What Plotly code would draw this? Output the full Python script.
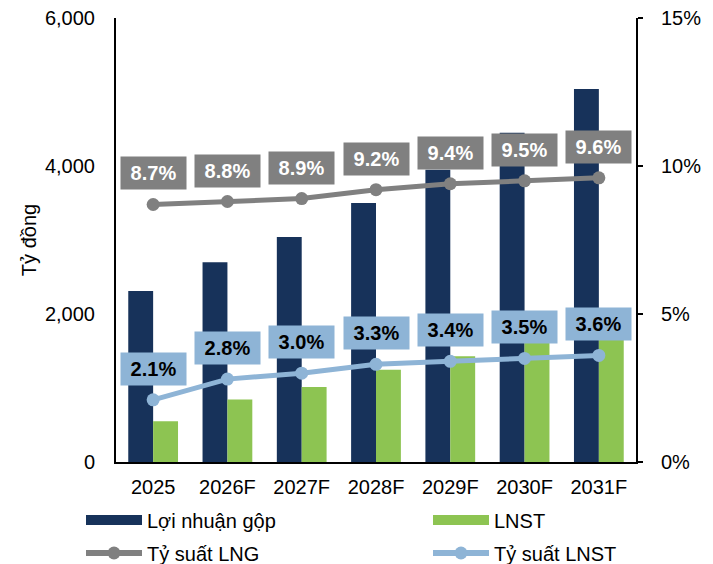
import plotly.graph_objects as go

categories = ["2025", "2026F", "2027F", "2028F", "2029F", "2030F", "2031F"]
gross_profit = [2310, 2700, 3040, 3500, 3950, 4450, 5040]
net_profit = [550, 845, 1015, 1245, 1430, 1640, 1890]
gross_margin = [0.087, 0.088, 0.089, 0.092, 0.094, 0.095, 0.096]
net_margin = [0.021, 0.028, 0.030, 0.033, 0.034, 0.035, 0.036]

NAVY = "#17325A"
GREEN = "#8DC452"
GREY = "#808080"
LBLUE = "#8EB4D6"
FONT = "Arial, Liberation Sans, sans-serif"

fig = go.Figure()
fig.add_trace(go.Bar(x=categories, y=gross_profit, name="Lợi nhuận gộp",
                     marker=dict(color=NAVY, line=dict(width=0)), showlegend=False))
fig.add_trace(go.Bar(x=categories, y=net_profit, name="LNST",
                     marker=dict(color=GREEN, line=dict(width=0)), showlegend=False))
fig.add_trace(go.Scatter(x=categories, y=gross_margin, name="Tỷ suất LNG", yaxis="y2",
                         mode="lines+markers", line=dict(color=GREY, width=5),
                         marker=dict(color=GREY, size=13), showlegend=False))
fig.add_trace(go.Scatter(x=categories, y=net_margin, name="Tỷ suất LNST", yaxis="y2",
                         mode="lines+markers", line=dict(color=LBLUE, width=5),
                         marker=dict(color=LBLUE, size=13), showlegend=False))

# legend entries (one legend per entry for exact placement)
fig.add_trace(go.Scatter(x=[None], y=[None], name="Lợi nhuận gộp", mode="lines",
                         line=dict(color=NAVY, width=12), legend="legend"))
fig.add_trace(go.Scatter(x=[None], y=[None], name="LNST", mode="lines",
                         line=dict(color=GREEN, width=12), legend="legend2"))
fig.add_trace(go.Scatter(x=[None], y=[None], name="Tỷ suất LNG", mode="lines+markers",
                         line=dict(color=GREY, width=6), marker=dict(color=GREY, size=13),
                         legend="legend3"))
fig.add_trace(go.Scatter(x=[None], y=[None], name="Tỷ suất LNST", mode="lines+markers",
                         line=dict(color=LBLUE, width=6), marker=dict(color=LBLUE, size=13),
                         legend="legend4"))

annotations = []
for i, v in enumerate(gross_margin):
    annotations.append(dict(x=i, y=v, xref="x", yref="y2", text=f"<b>{v*100:.1f}%</b>",
                            showarrow=False, yshift=31, bgcolor=GREY, width=65, height=32,
                            borderpad=0, font=dict(family=FONT, size=20, color="white")))
for i, v in enumerate(net_margin):
    annotations.append(dict(x=i, y=v, xref="x", yref="y2", text=f"<b>{v*100:.1f}%</b>",
                            showarrow=False, yshift=31, bgcolor=LBLUE, width=65, height=32,
                            borderpad=0, font=dict(family=FONT, size=20, color="black")))

# page body adds an 8px offset, so the figure is laid out 8px up/left
PL, PW, PT, PH = 108, 520, 10, 444


def lx(px):
    return (px - PL) / PW


def ly(py):
    return (PT + PH - py) / PH


leg_common = dict(orientation="v", xanchor="left", yanchor="middle", itemwidth=56,
                  font=dict(size=20), bgcolor="rgba(0,0,0,0)")

fig.update_layout(
    width=713, height=564,
    margin=dict(l=PL, r=713 - PL - PW, t=PT, b=564 - PT - PH, autoexpand=False),
    paper_bgcolor="white", plot_bgcolor="white",
    font=dict(family=FONT, size=20, color="black"),
    barmode="group", bargap=0.33, bargroupgap=0,
    annotations=annotations,
    xaxis=dict(type="category", showline=True, linecolor="black", linewidth=2,
               showgrid=False, ticks="", tickfont=dict(size=20), ticklabelstandoff=6),
    yaxis=dict(range=[0, 6000], tickvals=[0, 2000, 4000, 6000], tickformat=",",
               showline=True, linecolor="black", linewidth=2, showgrid=False,
               zeroline=False, ticks="", ticklabelstandoff=15, ticklabeloverflow="allow",
               title=dict(text="Tỷ đồng", font=dict(size=20), standoff=3)),
    yaxis2=dict(range=[0, 0.15], tickvals=[0, 0.05, 0.10, 0.15], tickformat=".0%",
                overlaying="y", side="right", showline=True, linecolor="black",
                linewidth=2, showgrid=False, zeroline=False, ticks="outside",
                ticklen=5, tickwidth=2, tickcolor="black", ticklabelstandoff=14,
                ticklabeloverflow="allow"),
    legend=dict(x=lx(73), y=ly(512), **leg_common),
    legend2=dict(x=lx(420), y=ly(512), **leg_common),
    legend3=dict(x=lx(73), y=ly(545), **leg_common),
    legend4=dict(x=lx(420), y=ly(545), **leg_common),
)

fig.write_html("out.html")
